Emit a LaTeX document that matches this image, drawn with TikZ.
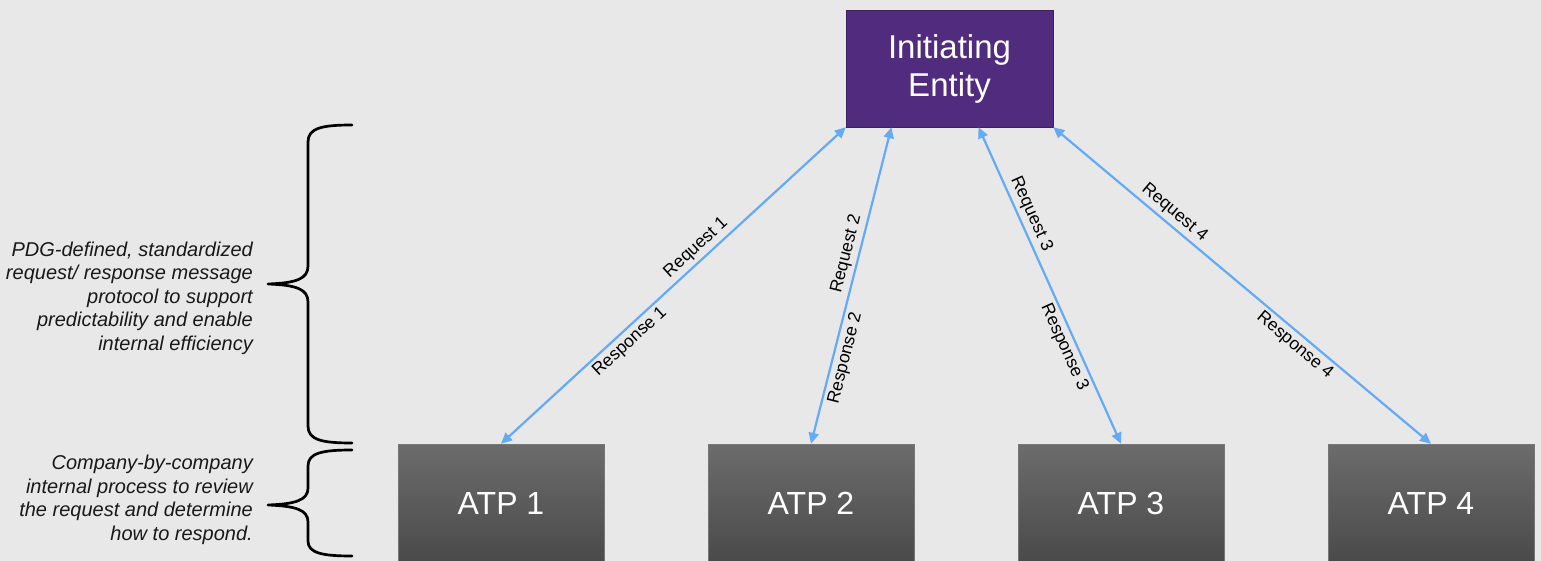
\documentclass[tikz,border=0pt]{standalone}
\usepackage{fontspec}
\setmainfont{Liberation Sans}
\usepackage{xcolor}
\usepackage{tikz}
\usetikzlibrary{arrows.meta,calc}
\definecolor{bgGray}{RGB}{232,232,232}
\definecolor{entityPurple}{RGB}{81,44,126}
\definecolor{entityBorder}{RGB}{60,32,96}
\definecolor{atpTop}{RGB}{108,108,108}
\definecolor{atpBottom}{RGB}{74,74,74}
\definecolor{atpBorder}{RGB}{118,118,118}
\definecolor{linkBlue}{RGB}{100,170,245}

\begin{document}
\begin{tikzpicture}[x=1pt,y=-1pt,
    entity/.style={draw=entityBorder, fill=entityPurple, text=white, minimum width=207pt, minimum height=117pt, align=center, font=\fontsize{33}{38}\selectfont},
    atp/.style={draw=atpBorder, top color=atpTop, bottom color=atpBottom, text=white, minimum width=206pt, minimum height=118pt, font=\fontsize{32}{38}\selectfont},
    link/.style={linkBlue, line width=2.2pt, {Triangle[length=11pt,width=10pt]}-{Triangle[length=11pt,width=10pt]}},
    msg/.style={sloped, text=black, font=\fontsize{17.5}{20}\selectfont},
    bracket/.style={line width=2.7pt, line join=round, line cap=round},
    note/.style={anchor=east, align=right, inner sep=0pt, text=black!90, font=\itshape\fontsize{20}{23.5}\selectfont}]
            % Background
            \useasboundingbox (0,0) rectangle (1541,561);
            \fill[bgGray] (0,0) rectangle (1541,561);
            
            % Entities
            \node[entity] (init) at (949.5,68.5) {Initiating\\Entity};
            \node[atp] (atp1) at (501,503) {ATP 1};
            \node[atp] (atp2) at (811,503) {ATP 2};
            \node[atp] (atp3) at (1121,503) {ATP 3};
            \node[atp] (atp4) at (1431,503) {ATP 4};
            
            \coordinate (top2) at ($(init.south west)!0.22!(init.south east)$);
            \coordinate (top3) at ($(init.south west)!0.64!(init.south east)$);
            
            % Request / response links
            \draw[link] (atp1.north) -- (init.south west)
                node[msg, pos=0.59, above] {Request 1}
                node[msg, pos=0.35, below] {Response 1};
            \draw[link] (atp2.north) -- (top2)
                node[msg, pos=0.59, above] {Request 2}
                node[msg, pos=0.28, below] {Response 2};
            \draw[link] (top3) -- (atp3.north)
                node[msg, pos=0.29, above] {Request 3}
                node[msg, pos=0.68, below] {Response 3};
            \draw[link] (init.south east) -- (atp4.north)
                node[msg, pos=0.30, above] {Request 4}
                node[msg, pos=0.66, below] {Response 4};
            
            % Braces
            \draw[bracket] (352,125) .. controls (322,125) and (308,128) .. (308,142) -- (308,266)
                .. controls (308,279) and (296,283) .. (268,284)
                .. controls (296,285) and (308,289) .. (308,302) -- (308,426)
                .. controls (308,440) and (322,443) .. (352,443);
            \draw[bracket] (352,450) .. controls (322,450) and (308,453) .. (308,466) -- (308,488)
                .. controls (308,500) and (296,504) .. (268,505)
                .. controls (296,506) and (308,510) .. (308,522) -- (308,541)
                .. controls (308,553) and (322,556) .. (352,556);
            
            % Annotations
            \node[note] (protocol) at (253,298) {PDG-defined, standardized\\request/ response message\\protocol to support\\predictability and enable\\internal efficiency};
            \node[note] (process) at (253,500) {Company-by-company\\internal process to review\\the request and determine\\how to respond.};
        \end{tikzpicture}
\end{document}
